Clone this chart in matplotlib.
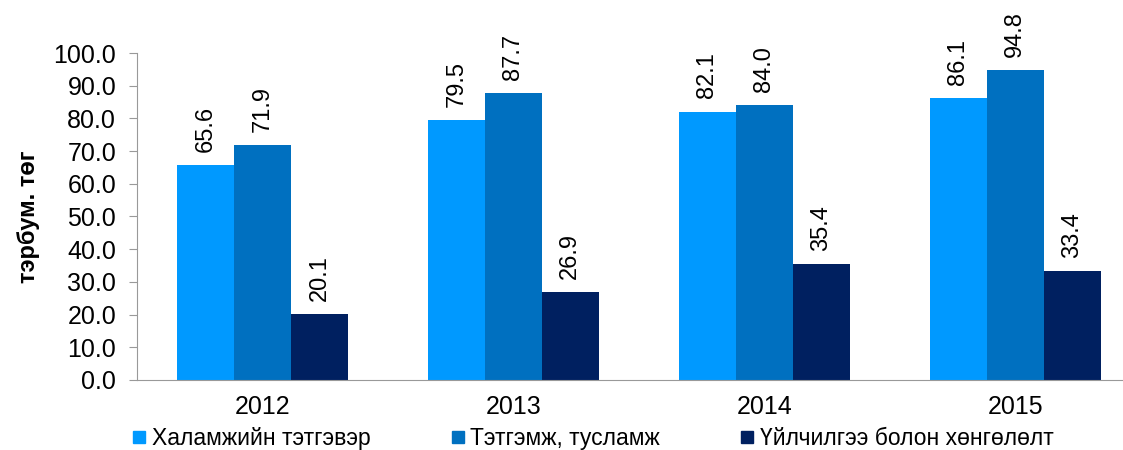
import matplotlib.pyplot as plt
from matplotlib.lines import Line2D
import numpy as np

plt.rcParams['font.family'] = ['Liberation Sans', 'DejaVu Sans']

years = ["2012", "2013", "2014", "2015"]
series_names = ["Халамжийн тэтгэвэр", "Тэтгэмж, тусламж", "Үйлчилгээ болон хөнгөлөлт"]
pension = [65.6, 79.5, 82.1, 86.1]
benefits = [71.9, 87.7, 84.0, 94.8]
services = [20.1, 26.9, 35.4, 33.4]
colors = ["#0099FF", "#0070C0", "#002060"]

fig = plt.figure(figsize=(11.23, 4.5), dpi=100)
ax = fig.add_axes([0.122, 0.1556, 0.878, 0.7266])

x = np.arange(len(years))
w = 0.227
for i, (vals, c) in enumerate(zip([pension, benefits, services], colors)):
    pos = x + (i - 1) * w
    ax.bar(pos, vals, w, color=c, label=series_names[i])
    for p, v in zip(pos, vals):
        ax.text(p, v + 4, f"{v:.1f}", rotation=90, ha="center", va="bottom", fontsize=17)

ax.set_xlim(-0.5, 3.43)
ax.set_ylim(0, 100)
ax.set_yticks(np.arange(0, 101, 10))
ax.set_yticklabels([f"{t:.1f}" for t in np.arange(0, 101, 10)], fontsize=18)
ax.set_xticks(x)
ax.set_xticklabels(years, fontsize=18)
ax.tick_params(axis="x", length=0, pad=11)
ax.tick_params(axis="y", length=6, color="#999999", pad=9)
for s in ["top", "right"]:
    ax.spines[s].set_visible(False)
ax.spines["left"].set_color("#999999")
ax.spines["bottom"].set_color("#999999")
ax.set_ylabel("тэрбум. төг", fontsize=17, fontweight="bold", labelpad=10)

handles = [Line2D([], [], marker="s", linestyle="", color=c, markersize=8) for c in colors]
fig.legend(handles, series_names, loc="lower center", bbox_to_anchor=(0.527, -0.045), ncol=3,
           frameon=False, fontsize=16.5, handletextpad=0.15, columnspacing=3.4, handlelength=0.8)

plt.savefig("out.png")
